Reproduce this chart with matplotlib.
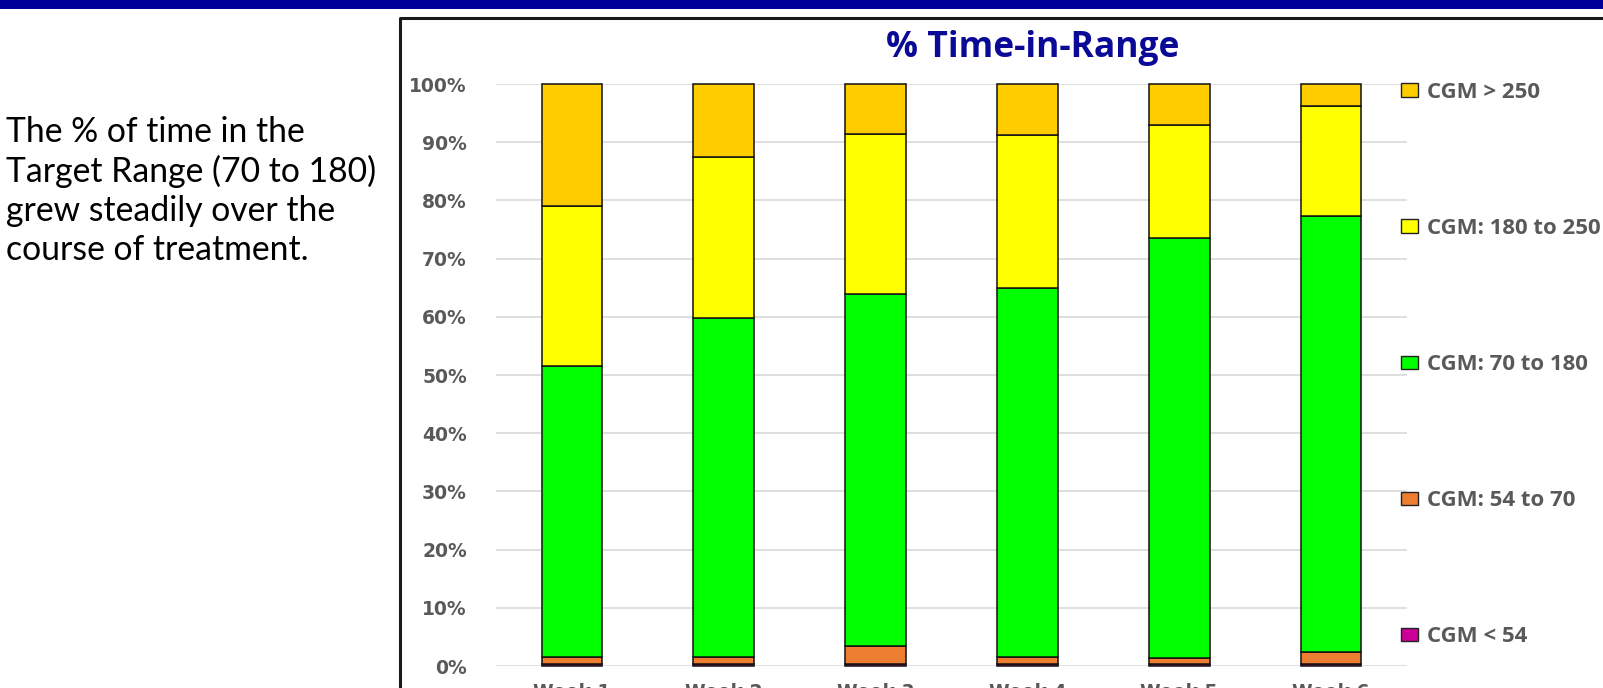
import matplotlib
matplotlib.use("Agg")
import matplotlib.pyplot as plt
from matplotlib.patches import Rectangle
from matplotlib.lines import Line2D
import numpy as np

W, H = 1603, 688

weeks = ["Week 1", "Week 2", "Week 3", "Week 4", "Week 5", "Week 6"]
series_names = ["CGM < 54", "CGM: 54 to 70", "CGM: 70 to 180", "CGM: 180 to 250", "CGM > 250"]
cgm_lt54 = [0.3, 0.3, 0.3, 0.3, 0.3, 0.3]
cgm_54_70 = [1.3, 1.3, 3.1, 1.3, 1.1, 2.05]
cgm_70_180 = [49.9, 58.2, 60.6, 63.3, 72.1, 75.05]
cgm_180_250 = [27.5, 27.6, 27.4, 26.3, 19.5, 18.8]
cgm_gt250 = [21.0, 12.6, 8.6, 8.8, 7.0, 3.8]
colors = ["#CC0099", "#ED7D31", "#00FF00", "#FFFF00", "#FFCC00"]
yticks = [0, 10, 20, 30, 40, 50, 60, 70, 80, 90, 100]
ytick_labels = [f"{v}%" for v in yticks]

note_lines = ["The % of time in the", "Target Range (70 to 180)", "grew steadily over the", "course of treatment."]


def fx(x):
    return x / W


def fy(y):
    return 1 - y / H


fig = plt.figure(figsize=(W / 100, H / 100), dpi=100)

# top blue band
fig.patches.append(Rectangle((0, fy(9)), 1, 9 / H, transform=fig.transFigure,
                             facecolor="#000099", edgecolor="none", zorder=5))

# chart frame
fig.lines.append(Line2D([fx(400), fx(400), fx(1610)], [fy(700), fy(18), fy(18)],
                        transform=fig.transFigure, color="#1a1a1a", lw=2.2))

ax = fig.add_axes([fx(496), fy(666), (1407 - 496) / W, (666 - 84) / H])
x = np.arange(len(weeks))
data = [cgm_lt54, cgm_54_70, cgm_70_180, cgm_180_250, cgm_gt250]
bottom = np.zeros(len(weeks))
for vals, c, name in zip(data, colors, series_names):
    ax.bar(x, vals, bottom=bottom, width=0.40, color=c, edgecolor="#111111",
           linewidth=1.1, zorder=3, label=name, clip_on=False)
    bottom += np.array(vals)

ax.set_xlim(-0.5, len(weeks) - 0.5)
ax.set_ylim(0, 100)
ax.set_yticks(yticks)
ax.set_yticklabels(ytick_labels, fontfamily="DejaVu Sans", fontweight="bold",
                   fontsize=13.5, color="#595959")
ax.set_xticks(x)
ax.set_xticklabels(weeks, fontfamily="DejaVu Sans", fontweight="bold",
                   fontsize=13.5, color="#595959")
ax.tick_params(axis="y", length=0, pad=21)
ax.tick_params(axis="x", length=0, pad=12)
for s in ax.spines.values():
    s.set_visible(False)
ax.yaxis.grid(True, color="#D9D9D9", linewidth=1.2, zorder=0)
ax.set_axisbelow(True)

# title
fig.text(fx(1033), fy(57), "% Time-in-Range", ha="center", va="baseline",
         fontfamily="Open Sans", fontweight="bold", fontsize=25.5, color="#0A0A96")

# legend (top to bottom)
leg_y = [90, 226, 362, 498, 634]
for name, c, yc in zip(series_names[::-1], colors[::-1], leg_y):
    fig.patches.append(Rectangle((fx(1401), fy(yc + 6.5)), 17 / W, 13 / H,
                                 transform=fig.transFigure, facecolor=c,
                                 edgecolor="#222222", lw=1.0))
    fig.text(fx(1427), fy(yc + 7.5), name, ha="left", va="baseline",
             fontfamily="Open Sans", fontweight="bold", fontsize=16, color="#595959")

# side note
base = [142, 182, 221, 260]
for line, b in zip(note_lines, base):
    fig.text(fx(6), fy(b), line, ha="left", va="baseline", fontfamily="Lato",
             fontsize=24.3, color="black")

fig.savefig("out.png", dpi=100)
